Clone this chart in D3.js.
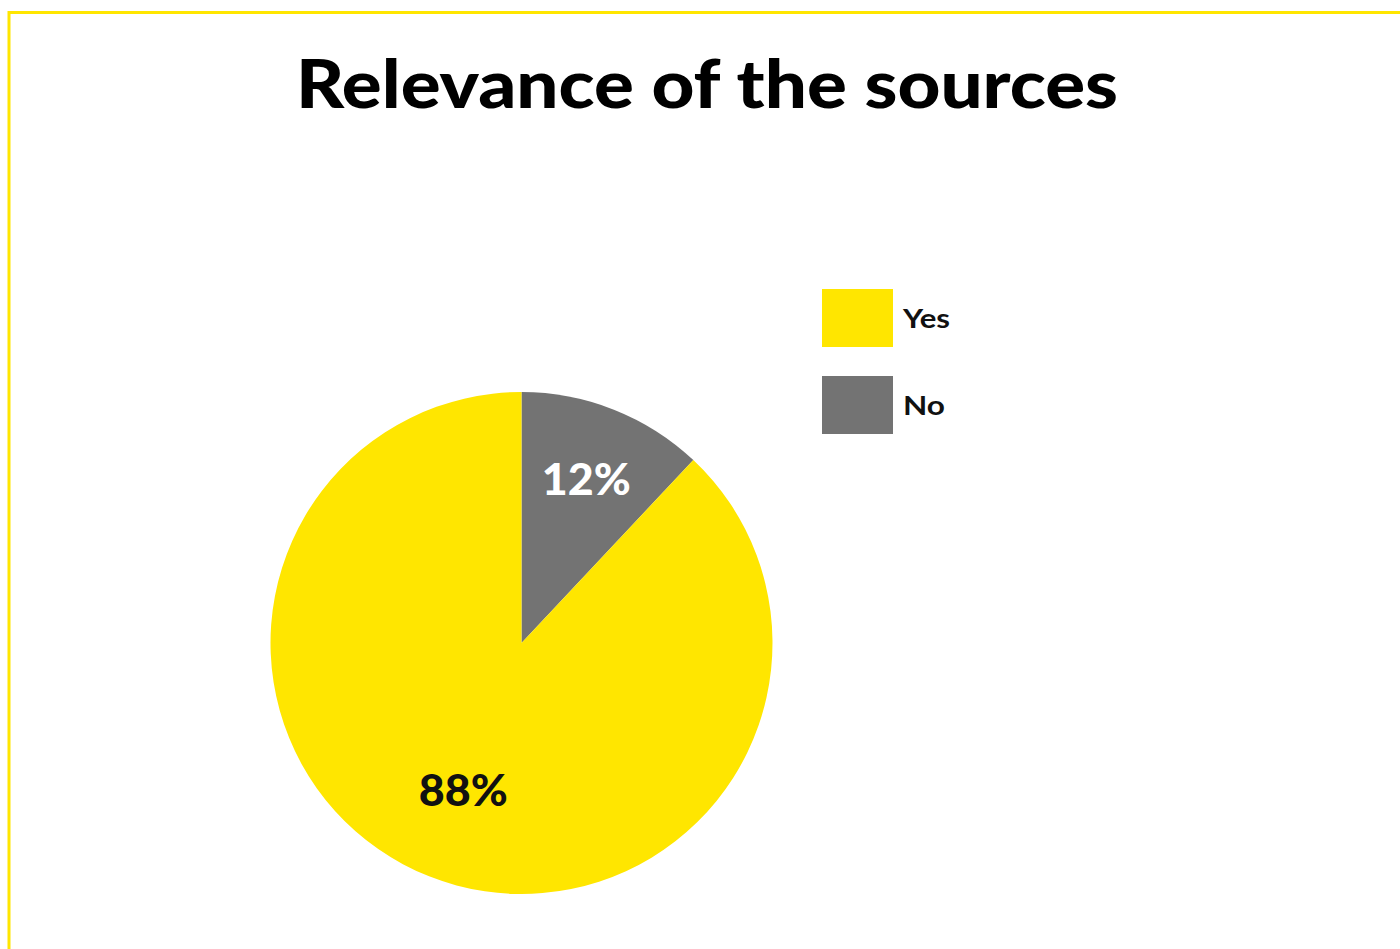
<!DOCTYPE html>
<html>
<head>
<meta charset="utf-8">
<script src="https://cdn.jsdelivr.net/npm/d3@7"></script>
<style>
  html, body { margin: 0; padding: 0; background: #fff; }
  svg { display: block; }
</style>
</head>
<body>
<script>
const title = "Relevance of the sources";
const categories = ["No", "Yes"];
const values = [12, 88];
const legendOrder = ["Yes", "No"];
const colors = { Yes: "#FFE600", No: "#737373" };
const labelColors = { Yes: "#111111", No: "#FFFFFF" };

const W = 1400, H = 949;
const svg = d3.select("body").append("svg").attr("width", W).attr("height", H);

// frame (top & left yellow border)
svg.append("path")
  .attr("d", `M9,${H} L9,12.5 L${W},12.5`)
  .attr("fill", "none").attr("stroke", "#FFE600").attr("stroke-width", 3);

// title
svg.append("text")
  .attr("x", 707).attr("y", 108)
  .attr("text-anchor", "middle")
  .attr("font-family", "Lato, 'Open Sans', sans-serif")
  .attr("font-weight", 900)
  .attr("font-size", 67)
  .attr("fill", "#000")
  .attr("textLength", 822)
  .attr("lengthAdjust", "spacingAndGlyphs")
  .text(title);

// pie
const cx = 521.5, cy = 643, r = 251;
const data = categories.map((c, i) => ({ cat: c, value: values[i] }));
const pie = d3.pie().sort(null).value(d => d.value);
const arcs = pie(data);
const arc = d3.arc().innerRadius(0).outerRadius(r);
const g = svg.append("g").attr("transform", `translate(${cx},${cy})`);

g.selectAll("path.slice").data(arcs).enter().append("path")
  .attr("class", "slice")
  .attr("d", arc)
  .attr("fill", d => colors[d.data.cat]);

const labelRadius = { No: 0.70, Yes: 0.63 };
g.selectAll("text.lbl").data(arcs).enter().append("text")
  .attr("class", "lbl")
  .attr("transform", d => {
    const a = (d.startAngle + d.endAngle) / 2;
    const rr = r * labelRadius[d.data.cat];
    return `translate(${rr * Math.sin(a)},${-rr * Math.cos(a)})`;
  })
  .attr("text-anchor", "middle")
  .attr("dy", "0.36em")
  .attr("font-family", "Lato, 'Open Sans', sans-serif")
  .attr("font-weight", 900)
  .attr("font-size", 44)
  .attr("fill", d => labelColors[d.data.cat])
  .attr("textLength", 89)
  .attr("lengthAdjust", "spacingAndGlyphs")
  .text(d => d.data.value + "%");

// legend
const leg = svg.append("g").attr("transform", "translate(822,289)");
const item = leg.selectAll("g").data(legendOrder).enter().append("g")
  .attr("transform", (d, i) => `translate(0,${i * 87})`);
item.append("rect").attr("width", 71).attr("height", 58)
  .attr("fill", d => colors[d]);
const legendTextLen = { Yes: 47, No: 42 };
item.append("text")
  .attr("x", 81).attr("y", 39)
  .attr("font-family", "Lato, 'Open Sans', sans-serif")
  .attr("font-weight", 700)
  .attr("font-size", 27)
  .attr("fill", "#111")
  .attr("textLength", d => legendTextLen[d])
  .attr("lengthAdjust", "spacingAndGlyphs")
  .text(d => d);
</script>
</body>
</html>
